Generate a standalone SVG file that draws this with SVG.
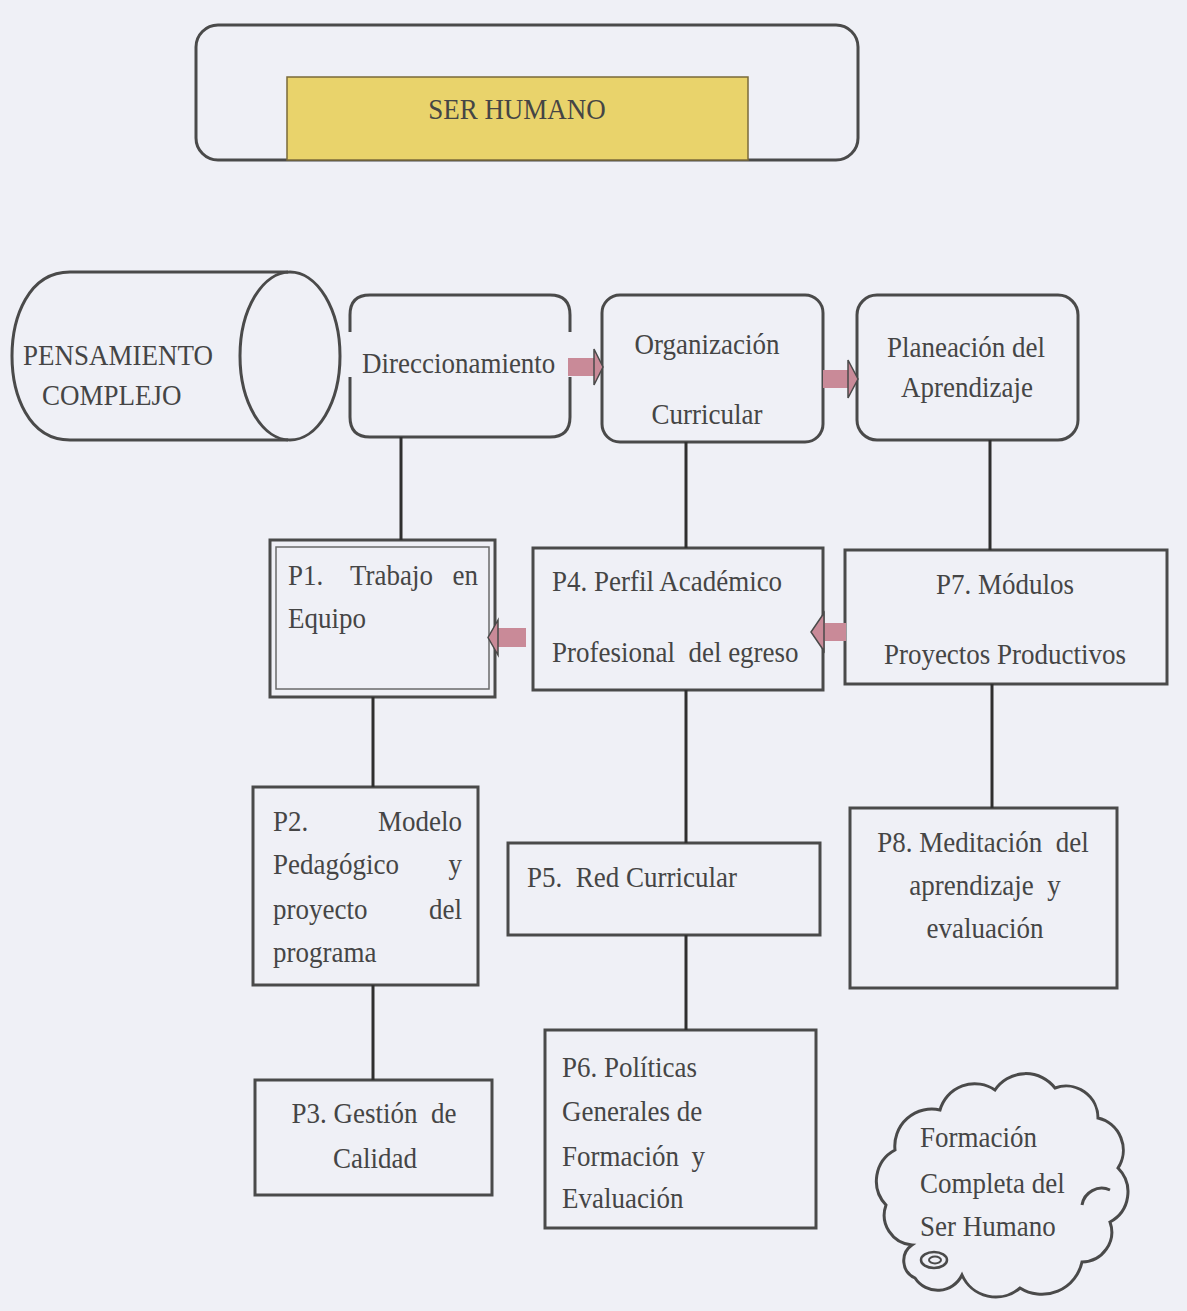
<svg xmlns="http://www.w3.org/2000/svg" width="1187" height="1311" viewBox="0 0 1187 1311">
<style>
text{font-family:"Liberation Serif","Times New Roman",serif;font-size:27px;fill:#454545;white-space:pre;transform-box:fill-box;transform-origin:center;transform:scaleY(1.12)}
.box{fill:none;stroke:#4a4a4a;stroke-width:3}
.ln{stroke:#2f2f2f;stroke-width:3;fill:none}
.arr{fill:#c98a98;stroke:none}
.head{fill:#c98a98;stroke:#4a4a4a;stroke-width:1.5}
.c{text-anchor:middle}
.e{text-anchor:end}
</style>
<rect width="1187" height="1311" fill="#eff0f6"/>
<g id="ser-humano">
<rect x="196" y="25" width="662" height="135" rx="22" class="box" stroke="#5a5358"/>
<rect x="287" y="77" width="461" height="83" fill="#e9d36b" stroke="#7a6a3a" stroke-width="1.5"/>
<text x="517" y="118" class="c">SER HUMANO</text>
</g>
<g id="pensamiento">
<path class="box" d="M288,272 L70,272 C28,272 12,318 12,356 C12,394 28,440 70,440 L288,440"/>
<ellipse cx="290" cy="356" rx="50" ry="84" class="box"/>
<text x="23" y="364" font-size="28.5">PENSAMIENTO</text>
<text x="42" y="404" font-size="28">COMPLEJO</text>
</g>
<g id="direccionamiento">
<path class="box" d="M350,332 L350,315 Q350,295 370,295 L550,295 Q570,295 570,315 L570,332"/>
<path class="box" d="M570,377 L570,417 Q570,437 550,437 L370,437 Q350,437 350,417 L350,377"/>
<text x="362" y="372">Direccionamiento</text>
</g>
<g id="organizacion">
<rect x="602" y="295" width="221" height="147" rx="18" class="box"/>
<text x="707" y="353" class="c">Organización</text>
<text x="707" y="423" class="c">Curricular</text>
</g>
<g id="planeacion">
<rect x="857" y="295" width="221" height="145" rx="20" class="box"/>
<text x="966" y="356" class="c">Planeación del</text>
<text x="967" y="396" class="c">Aprendizaje</text>
</g>
<g id="p1">
<rect x="270" y="540" width="225" height="157" class="box"/>
<rect x="276" y="547" width="213" height="142" fill="none" stroke="#6a6a6a" stroke-width="1.5"/>
<text x="288" y="584">P1.</text>
<text x="350" y="584">Trabajo</text>
<text x="478" y="584" class="e">en</text>
<text x="288" y="627">Equipo</text>
</g>
<g id="p4">
<rect x="533" y="548" width="290" height="142" class="box"/>
<text x="552" y="590">P4. Perfil Académico</text>
<text x="552" y="661">Profesional  del egreso</text>
</g>
<g id="p7">
<rect x="845" y="550" width="322" height="134" class="box"/>
<text x="1005" y="593" class="c">P7. Módulos</text>
<text x="1005" y="663" class="c">Proyectos Productivos</text>
</g>
<g id="p2">
<rect x="253" y="787" width="225" height="198" class="box"/>
<text x="273" y="830">P2.</text>
<text x="462" y="830" class="e">Modelo</text>
<text x="273" y="873">Pedagógico</text>
<text x="462" y="873" class="e">y</text>
<text x="273" y="918">proyecto</text>
<text x="462" y="918" class="e">del</text>
<text x="273" y="961">programa</text>
</g>
<g id="p5">
<rect x="508" y="843" width="312" height="92" class="box"/>
<text x="527" y="886">P5.  Red Curricular</text>
</g>
<g id="p8">
<rect x="850" y="808" width="267" height="180" class="box"/>
<text x="983" y="851" class="c">P8. Meditación  del</text>
<text x="985" y="894" class="c">aprendizaje  y</text>
<text x="985" y="937" class="c">evaluación</text>
</g>
<g id="p3">
<rect x="255" y="1080" width="237" height="115" class="box"/>
<text x="374" y="1122" class="c">P3. Gestión  de</text>
<text x="375" y="1167" class="c">Calidad</text>
</g>
<g id="p6">
<rect x="545" y="1030" width="271" height="198" class="box"/>
<text x="562" y="1076">P6. Políticas</text>
<text x="562" y="1120">Generales de</text>
<text x="562" y="1165">Formación</text>
<text x="705" y="1165" class="e">y</text>
<text x="562" y="1207">Evaluación</text>
</g>
<g id="cloud">
<path class="box" d="M912,1245 A30,30 0 0 1 886,1205 A35,35 0 0 1 895,1150 A37,37 0 0 1 940,1110 A36,36 0 0 1 995,1090 A37,37 0 0 1 1055,1088 A32,32 0 0 1 1098,1118 A33,33 0 0 1 1118,1168 A34,34 0 0 1 1110,1222 A30,30 0 0 1 1082,1262 A41,41 0 0 1 1020,1288 A37,37 0 0 1 962,1275 A27,27 0 0 1 915,1278 A19,19 0 0 1 912,1245 Z"/>
<path d="M1082,1205 A20,20 0 0 1 1110,1190" fill="none" stroke="#4a4a4a" stroke-width="3"/>
<ellipse cx="934" cy="1260" rx="13" ry="8" fill="none" stroke="#4a4a4a" stroke-width="2.5"/>
<ellipse cx="935" cy="1260" rx="6" ry="3.5" fill="none" stroke="#4a4a4a" stroke-width="2"/>
<text x="920" y="1146">Formación</text>
<text x="920" y="1192">Completa del</text>
<text x="920" y="1235">Ser Humano</text>
</g>
<g id="connectors">
<line x1="401" y1="437" x2="401" y2="540" class="ln"/>
<line x1="686" y1="442" x2="686" y2="548" class="ln"/>
<line x1="990" y1="440" x2="990" y2="550" class="ln"/>
<line x1="373" y1="697" x2="373" y2="787" class="ln"/>
<line x1="686" y1="690" x2="686" y2="843" class="ln"/>
<line x1="992" y1="684" x2="992" y2="808" class="ln"/>
<line x1="373" y1="985" x2="373" y2="1080" class="ln"/>
<line x1="686" y1="935" x2="686" y2="1030" class="ln"/>
<rect x="568" y="358" width="27" height="18" class="arr"/>
<path class="head" d="M594,349 L603,367 L594,385 Z"/>
<rect x="823" y="370" width="26" height="18" class="arr"/>
<path class="head" d="M848,360 L858,379 L848,398 Z"/>
<rect x="497" y="628" width="29" height="19" class="arr"/>
<path class="head" d="M498,620 L488,637.5 L498,655 Z"/>
<rect x="823" y="623" width="23" height="18" class="arr"/>
<path class="head" d="M824,613 L811,632 L824,651 Z"/>
</g>
</svg>
